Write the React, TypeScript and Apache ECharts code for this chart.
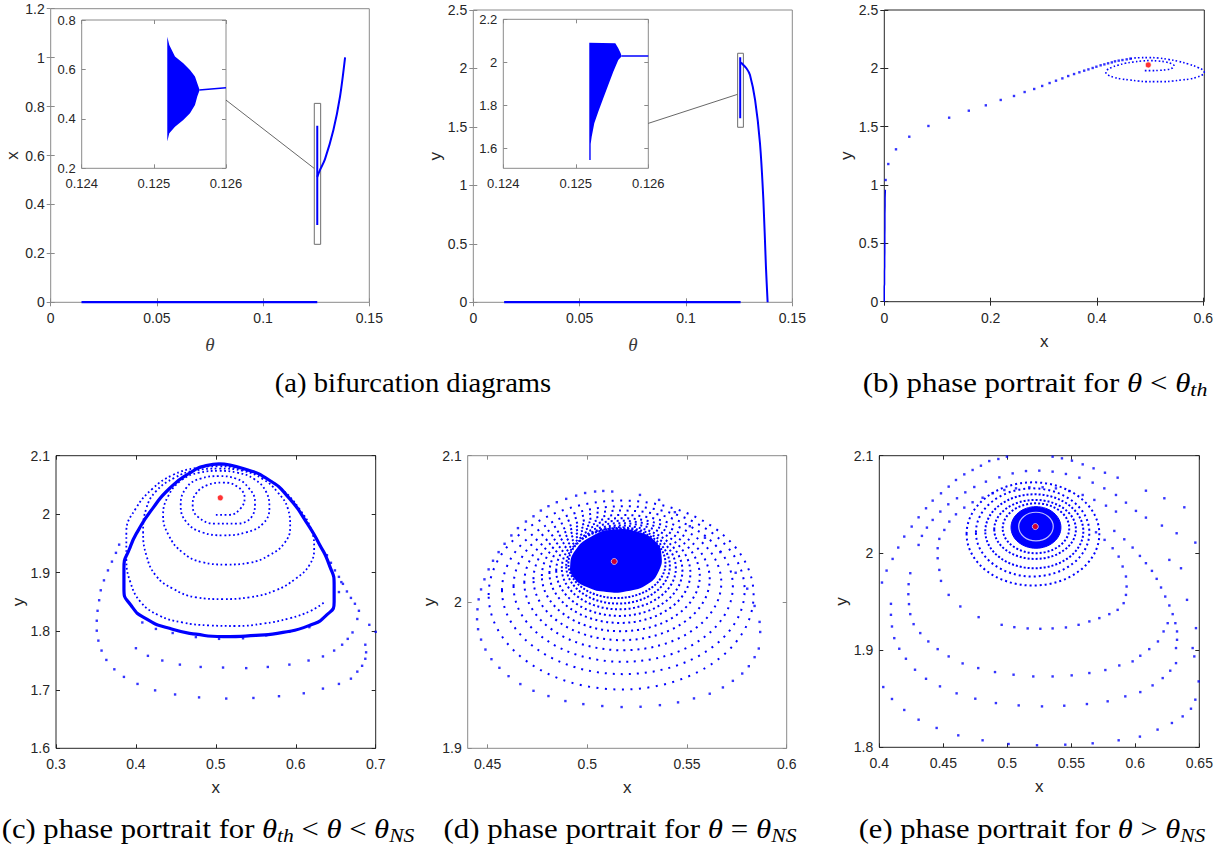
import { useEffect, useRef } from 'react';
import * as echarts from 'echarts';

const BLUE = '#0000ff';
const RED = '#ff0000';
const TXT = '#262626';

// ---------------- tick labels ----------------
const thetaTicks = [0, 0.05, 0.1, 0.15];
const a1YTicks = [0, 0.2, 0.4, 0.6, 0.8, 1, 1.2];
const insetXTicks = [0.124, 0.125, 0.126];
const a1InsetYTicks = [0.2, 0.4, 0.6, 0.8];
const a2YTicks = [0, 0.5, 1, 1.5, 2, 2.5];
const a2InsetYTicks = [1.6, 1.8, 2, 2.2];
const bXTicks = [0, 0.2, 0.4, 0.6];
const bYTicks = [0, 0.5, 1, 1.5, 2, 2.5];
const cXTicks = [0.3, 0.4, 0.5, 0.6, 0.7];
const cYTicks = [1.6, 1.7, 1.8, 1.9, 2, 2.1];
const dXTicks = [0.45, 0.5, 0.55, 0.6];
const dYTicks = [1.9, 2, 2.1];
const eXTicks = [0.4, 0.45, 0.5, 0.55, 0.6, 0.65];
const eYTicks = [1.8, 1.9, 2, 2.1];

// ---------------- (a) bifurcation: x vs theta ----------------
const a1Zero = [[0.0145, 0], [0.1255, 0]];
const a1Jump = [[0.1255, 0.316], [0.1255, 0.722]];
const a1Branch = [[0.1255, 0.513], [0.1268, 0.541], [0.1291, 0.584], [0.1331, 0.704], [0.1362, 0.84], [0.1386, 1.001]];
const a1Box = [[0.1241, 0.1271, 0.237, 0.813]];
const a1BandUpper = [[0.125186, 0.732], [0.125214, 0.699], [0.125293, 0.652], [0.125408, 0.625], [0.125501, 0.598], [0.12557, 0.571], [0.125602, 0.544], [0.12563, 0.521]];
const a1BandLower = [[0.125186, 0.308], [0.125214, 0.342], [0.125293, 0.368], [0.125408, 0.395], [0.125501, 0.423], [0.12557, 0.456], [0.125602, 0.49], [0.12563, 0.513]];
const a1Tail = [[0.12563, 0.517], [0.126, 0.526]];

// ---------------- (a) bifurcation: y vs theta ----------------
const a2Zero = [[0.0145, 0], [0.1257, 0]];
const a2Jump = [[0.1255, 1.574], [0.1255, 2.096]];
const a2Branch = [[0.1257, 2.05], [0.1262, 2.044], [0.1285, 2.0], [0.1301, 1.944], [0.1325, 1.731], [0.1348, 1.36], [0.1364, 0.875], [0.1376, 0.305], [0.1384, 0]];
const a2Box = [[0.1243, 0.127, 1.497, 2.13]];
const a2BandUpper = [[0.125186, 2.091], [0.125545, 2.089], [0.125586, 2.065], [0.125619, 2.042], [0.12563, 2.031]];
const a2BandLower = [[0.125186, 1.546], [0.125205, 1.546], [0.125205, 1.62], [0.125219, 1.654], [0.125255, 1.716], [0.12531, 1.77], [0.125379, 1.833], [0.125448, 1.894], [0.125517, 1.956], [0.125586, 2.011], [0.12563, 2.027]];
const a2Tail = [[0.12563, 2.029], [0.126, 2.029]];

// ---------------- (b) phase portrait theta < theta_th ----------------
const bAxisPts = [[0, 0], [0, 0.01], [0, 0.02], [0, 0.03], [0, 0.045], [0, 0.06], [0, 0.075], [0, 0.09], [0, 0.11], [0, 0.13], [0.0005, 0.15], [0.0005, 0.17], [0.0005, 0.2], [0.0005, 0.23], [0.0005, 0.26], [0.0008, 0.3], [0.0008, 0.34], [0.0008, 0.38], [0.001, 0.42], [0.001, 0.47], [0.001, 0.52], [0.001, 0.57], [0.0012, 0.63], [0.0012, 0.69], [0.0012, 0.75], [0.0015, 0.82], [0.0015, 0.89], [0.002, 0.96]];
const bArm = [[0.0025, 1.043], [0.0075, 1.18], [0.022, 1.306], [0.047, 1.414], [0.083, 1.506], [0.122, 1.577], [0.159, 1.637], [0.191, 1.683], [0.219, 1.729], [0.244, 1.763], [0.264, 1.797], [0.282, 1.823], [0.297, 1.849], [0.311, 1.874], [0.323, 1.894], [0.335, 1.914], [0.346, 1.934], [0.357, 1.951], [0.367, 1.966], [0.376, 1.98], [0.384, 1.991], [0.392, 2.003], [0.399, 2.014], [0.407, 2.026], [0.414, 2.034], [0.421, 2.043], [0.428, 2.051], [0.434, 2.06], [0.441, 2.066], [0.448, 2.071], [0.456, 2.077], [0.463, 2.083]];
const bLoop = [[0.463, 2.083], [0.471, 2.089], [0.48, 2.091], [0.497, 2.092], [0.515, 2.089], [0.534, 2.077], [0.553, 2.06], [0.572, 2.037], [0.591, 2.006], [0.599, 1.986], [0.602, 1.963], [0.597, 1.94], [0.587, 1.923], [0.575, 1.909], [0.559, 1.9], [0.542, 1.891], [0.525, 1.886], [0.509, 1.886], [0.493, 1.886], [0.478, 1.891], [0.462, 1.9], [0.446, 1.909], [0.432, 1.923], [0.422, 1.94], [0.417, 1.963], [0.419, 1.986], [0.428, 2.009], [0.439, 2.026], [0.453, 2.043], [0.468, 2.054], [0.484, 2.063], [0.5, 2.066], [0.515, 2.063], [0.53, 2.054], [0.54, 2.04], [0.545, 2.023], [0.542, 2.003], [0.532, 1.989], [0.518, 1.983], [0.503, 1.98], [0.487, 1.98]];
const bFixed = [[0.4966, 2.029]];

// ---------------- (c) theta_th < theta < theta_NS ----------------
const cInner = [[0.5, 1.999], [0.517, 1.999], [0.531, 2.01], [0.536, 2.028], [0.527, 2.047], [0.509, 2.054], [0.49, 2.05], [0.475, 2.035], [0.471, 2.015], [0.478, 1.995], [0.499, 1.984], [0.527, 1.984], [0.546, 1.998], [0.549, 2.021], [0.541, 2.045], [0.525, 2.061], [0.504, 2.065], [0.481, 2.061], [0.463, 2.045], [0.456, 2.015], [0.463, 1.987], [0.483, 1.969], [0.509, 1.964], [0.538, 1.969], [0.559, 1.984], [0.567, 2.01], [0.563, 2.038], [0.548, 2.06], [0.527, 2.071], [0.504, 2.074], [0.479, 2.071], [0.456, 2.057], [0.44, 2.03], [0.434, 1.998], [0.441, 1.964], [0.458, 1.935], [0.483, 1.918], [0.513, 1.914], [0.542, 1.917], [0.567, 1.93], [0.586, 1.951], [0.593, 1.978], [0.59, 2.01], [0.577, 2.038], [0.559, 2.06], [0.534, 2.074], [0.504, 2.078], [0.475, 2.075], [0.448, 2.062], [0.425, 2.039], [0.413, 2.01], [0.409, 1.97], [0.413, 1.93], [0.425, 1.895], [0.446, 1.873], [0.475, 1.858], [0.509, 1.855], [0.542, 1.858], [0.575, 1.87], [0.6, 1.89], [0.617, 1.913], [0.623, 1.941], [0.619, 1.975], [0.604, 2.01], [0.584, 2.041], [0.559, 2.064], [0.529, 2.078], [0.504, 2.082], [0.475, 2.079], [0.446, 2.067], [0.421, 2.044], [0.4, 2.01], [0.388, 1.97], [0.388, 1.924], [0.393, 1.884], [0.406, 1.85], [0.429, 1.827], [0.458, 1.815], [0.492, 1.81], [0.525, 1.809], [0.559, 1.813], [0.592, 1.822], [0.619, 1.835], [0.636, 1.85]];
const cCycle = [[0.504, 2.086], [0.534, 2.078], [0.567, 2.058], [0.592, 2.027], [0.613, 1.987], [0.629, 1.95], [0.642, 1.913], [0.648, 1.878], [0.648, 1.85], [0.638, 1.827], [0.617, 1.81], [0.584, 1.798], [0.55, 1.793], [0.509, 1.791], [0.475, 1.795], [0.442, 1.805], [0.413, 1.821], [0.394, 1.844], [0.385, 1.873], [0.385, 1.907], [0.392, 1.941], [0.404, 1.975], [0.421, 2.01], [0.442, 2.044], [0.467, 2.07], [0.488, 2.083], [0.504, 2.086]];
const cOuter = [[0.379, 1.948], [0.375, 1.934], [0.37, 1.919], [0.365, 1.904], [0.36, 1.887], [0.356, 1.87], [0.354, 1.853], [0.352, 1.835], [0.351, 1.818], [0.351, 1.801], [0.353, 1.784], [0.357, 1.767], [0.363, 1.751], [0.373, 1.735], [0.385, 1.722], [0.402, 1.71], [0.424, 1.699], [0.449, 1.692], [0.479, 1.687], [0.513, 1.685], [0.547, 1.686], [0.579, 1.689], [0.61, 1.694], [0.634, 1.702], [0.654, 1.71], [0.669, 1.719], [0.677, 1.731], [0.683, 1.741], [0.687, 1.753], [0.688, 1.764], [0.687, 1.777], [0.692, 1.811], [0.7, 1.799],
  [0.4, 1.771], [0.415, 1.758], [0.433, 1.75], [0.455, 1.743], [0.481, 1.739], [0.509, 1.738], [0.538, 1.737], [0.565, 1.739], [0.592, 1.743], [0.616, 1.75], [0.634, 1.757], [0.648, 1.767], [0.658, 1.777], [0.665, 1.787], [0.671, 1.798], [0.677, 1.821], [0.679, 1.835], [0.674, 1.847], [0.669, 1.857], [0.664, 1.868], [0.659, 1.881], [0.654, 1.893], [0.649, 1.904], [0.644, 1.917], [0.639, 1.93],
  [0.408, 1.815], [0.425, 1.804], [0.446, 1.797], [0.475, 1.79], [0.504, 1.787], [0.534, 1.788], [0.563, 1.793], [0.592, 1.799], [0.617, 1.807], [0.654, 1.867], [0.657, 1.884]];
const cFixed = [[0.5056, 2.028]];

// ---------------- (d) theta = theta_NS ----------------
const dOuter = [[0.5125, 2.0755], [0.5264, 2.0732], [0.536, 2.0698], [0.5439, 2.0614], [0.5514, 2.0518], [0.559, 2.0439], [0.5667, 2.0341], [0.5744, 2.02], [0.5802, 2.0091], [0.5839, 1.9973], [0.5864, 1.9864], [0.5867, 1.9795], [0.586, 1.9682], [0.5839, 1.9623], [0.581, 1.9561], [0.5777, 1.9511], [0.573, 1.9461], [0.568, 1.9416], [0.5614, 1.9373], [0.5535, 1.9341], [0.5455, 1.9314], [0.5364, 1.9295], [0.5267, 1.9284], [0.5172, 1.9282], [0.5075, 1.9289], [0.498, 1.9302], [0.489, 1.9323], [0.4805, 1.9357], [0.473, 1.9393], [0.4664, 1.9439], [0.4605, 1.9493], [0.4559, 1.955], [0.4519, 1.9609], [0.4489, 1.9675], [0.4467, 1.9743], [0.4452, 1.9814], [0.4447, 1.9882], [0.4449, 1.995], [0.4455, 2.0018], [0.4467, 2.0086], [0.4484, 2.0155], [0.4505, 2.0223], [0.4527, 2.0282], [0.4555, 2.0341], [0.4585, 2.0398], [0.4619, 2.0455], [0.4652, 2.0505], [0.4692, 2.055], [0.473, 2.0586], [0.4767, 2.0625], [0.4805, 2.0655], [0.4847, 2.0682], [0.4894, 2.0705], [0.4944, 2.0727], [0.4989, 2.0745], [0.5039, 2.0755], [0.508, 2.0759]];
// ring extents: [xmin, xmax, ymin, ymax]
const dRings = [[0.4505, 0.5834, 1.9402, 2.0693], [0.4572, 0.5789, 1.9507, 2.0655], [0.463, 0.573, 1.9591, 2.0625], [0.4684, 0.5672, 1.967, 2.0595], [0.473, 0.5614, 1.9739, 2.0573], [0.4772, 0.5564, 1.98, 2.0555], [0.481, 0.5517, 1.9857, 2.0539], [0.4844, 0.5477, 1.9905, 2.0523], [0.4872, 0.5444, 1.995, 2.0511], [0.4894, 0.5414, 1.9989, 2.0505], [0.4905, 0.5392, 2.0027, 2.05]];
const dCore = [[0.513, 2.0495], [0.5264, 2.0473], [0.5347, 2.0405], [0.5372, 2.0318], [0.536, 2.0216], [0.5305, 2.0125], [0.5197, 2.0073], [0.5097, 2.0068], [0.4997, 2.0102], [0.493, 2.017], [0.4914, 2.025], [0.4939, 2.0352], [0.5014, 2.0443]];
const dFixed = [[0.5135, 2.0277]];

// ---------------- (e) theta > theta_NS ----------------
const eOuter = [
  [0.4021, 1.9695], [0.4057, 1.9818], [0.4104, 1.9938], [0.4148, 2.0055], [0.4195, 2.0168], [0.4253, 2.0271], [0.4307, 2.0366], [0.4365, 2.0459], [0.4417, 2.0538], [0.4482, 2.0613], [0.4542, 2.0682], [0.4599, 2.075], [0.4664, 2.0808], [0.4729, 2.0853], [0.4794, 2.0897], [0.4859, 2.0945], [0.493, 2.0966], [0.4997, 2.099], [0.5354, 2.099], [0.5427, 2.0973], [0.5505, 2.0949], [0.5589, 2.0911], [0.5674, 2.087], [0.5763, 2.0825], [0.5862, 2.0774], [0.6083, 2.064], [0.6227, 2.0562], [0.6383, 2.0469], [0.6469, 2.0106], [0.6495, 1.8678], [0.6469, 1.849], [0.6435, 1.8397], [0.637, 1.8318], [0.6286, 1.825], [0.6174, 1.8182], [0.6036, 1.811], [0.587, 1.8072], [0.5667, 1.8041], [0.5453, 1.8027], [0.5232, 1.8021], [0.501, 1.8034], [0.4807, 1.8072], [0.4617, 1.8123], [0.4448, 1.8199], [0.4307, 1.8284], [0.4195, 1.8384], [0.4099, 1.8497], [0.4031, 1.862],
  [0.4091, 1.9476], [0.4091, 1.9363], [0.4099, 1.9243], [0.4117, 1.9123], [0.4156, 1.9014], [0.4208, 1.8911], [0.4279, 1.8798], [0.4365, 1.8705], [0.4474, 1.8627], [0.4604, 1.8555], [0.475, 1.85], [0.4911, 1.8455], [0.5089, 1.8431], [0.5271, 1.8421], [0.5445, 1.8428], [0.5622, 1.8445], [0.5784, 1.8473], [0.5922, 1.8524], [0.6039, 1.8568], [0.6135, 1.8637], [0.6214, 1.8712], [0.6273, 1.8788], [0.6318, 1.8866],
  [0.4242, 1.9791], [0.4229, 1.9678], [0.4227, 1.9575], [0.4232, 1.9473], [0.4242, 1.937], [0.4268, 1.9267], [0.432, 1.9175], [0.4383, 1.9089], [0.4456, 1.901], [0.4542, 1.8935], [0.4651, 1.8863], [0.4773, 1.8815], [0.4904, 1.8774], [0.5049, 1.8747], [0.5203, 1.8729], [0.5354, 1.8729], [0.5503, 1.874], [0.5641, 1.8764], [0.5766, 1.8795], [0.5875, 1.8842], [0.5979, 1.8884], [0.6039, 1.8942], [0.6109, 1.901], [0.6177, 1.9089], [0.6221, 1.9192], [0.6253, 1.9277],
  [0.4307, 2.0082], [0.4333, 2.0175], [0.4372, 2.026], [0.4417, 2.0339], [0.4477, 2.0425], [0.4539, 2.05], [0.4607, 2.0562], [0.4672, 2.0623], [0.4742, 2.0678], [0.4833, 2.0733], [0.4938, 2.0777], [0.5042, 2.0818], [0.5146, 2.0842], [0.525, 2.0846], [0.5354, 2.0836], [0.5458, 2.0812], [0.5563, 2.0774], [0.5667, 2.0723], [0.5758, 2.0664], [0.5849, 2.0596], [0.5927, 2.0517], [0.6005, 2.0432], [0.6083, 2.0363], [0.6208, 2.0281], [0.6323, 2.0202], [0.6266, 1.9928], [0.6357, 1.9842], [0.6404, 1.9517], [0.6474, 1.9226], [0.6448, 1.9021], [0.6461, 1.8935],
  [0.4469, 1.9825], [0.4456, 1.9945], [0.4456, 2.0048], [0.4469, 2.0144], [0.4508, 2.0236], [0.4547, 2.0322], [0.4599, 2.0397], [0.4664, 2.0466], [0.4729, 2.0521], [0.4807, 2.0568], [0.4885, 2.0613], [0.4977, 2.0647], [0.5068, 2.0664], [0.5172, 2.0675], [0.5276, 2.0675], [0.538, 2.0664], [0.5484, 2.0637], [0.5589, 2.0596], [0.568, 2.0545], [0.5771, 2.0486], [0.5849, 2.0425],
  [0.4482, 1.9712], [0.4542, 1.9568], [0.4633, 1.9449], [0.4776, 1.9339], [0.4956, 1.926], [0.5055, 1.9236], [0.5159, 1.9223], [0.5258, 1.9219], [0.5354, 1.9223], [0.5458, 1.9233], [0.5557, 1.926], [0.5641, 1.9295], [0.5719, 1.9329], [0.5797, 1.937], [0.5862, 1.9414], [0.5909, 1.9483], [0.5927, 1.9568], [0.5932, 1.9654], [0.5927, 1.9757], [0.5901, 1.986], [0.587, 1.9962], [0.5823, 2.0048], [0.576, 2.0134], [0.5693, 2.0212],
  [0.5836, 2.0226], [0.5914, 2.014], [0.5979, 2.0055], [0.6036, 1.9969], [0.6083, 1.9894], [0.613, 1.9815], [0.6167, 1.9733], [0.6201, 1.9644], [0.6234, 1.9551], [0.6266, 1.9459], [0.6292, 1.937], [0.6313, 1.9277], [0.6326, 1.9192], [0.6326, 1.9106], [0.6318, 1.9021]];
const eRings = [[0.4682, 0.5719, 1.9664, 2.0726], [0.4755, 0.5641, 1.9757, 2.0664], [0.4828, 0.5594, 1.9842, 2.0603], [0.4898, 0.5536, 1.9938, 2.0545], [0.4964, 0.5484, 1.9997, 2.051]];
const eCore = [[0.5029, 0.5419, 2.0048, 2.0476]];
const eGap = [[0.5089, 0.5359, 2.0123, 2.0418]];
const eFixed = [[0.5219, 2.0271]];

// ---------------- helpers ----------------
const fmt = (v: number) => String(+Number(v).toFixed(4));

const grids = [
  { left: 50.7, top: 8.7, width: 318.6, height: 293.6, border: '#8a8a8a' },
  { left: 81.7, top: 20, width: 144.3, height: 148.3, border: '#8a8a8a' },
  { left: 473.3, top: 10, width: 319, height: 292.3, border: '#8a8a8a' },
  { left: 503.3, top: 19.3, width: 145, height: 149, border: '#8a8a8a' },
  { left: 884.3, top: 10, width: 320, height: 291.7, border: '#262626' },
  { left: 56, top: 455.7, width: 319.7, height: 292.6, border: '#262626' },
  { left: 467.7, top: 455.7, width: 319, height: 292.6, border: '#8a8a8a' },
  { left: 879.3, top: 455.7, width: 320, height: 291.6, border: '#262626' },
];

const axCfg = [
  { xr: [0, 0.15], xt: thetaTicks, yr: [0, 1.2], yt: a1YTicks, xn: 'θ', yn: 'x', fs: 14 },
  { xr: [0.124, 0.126], xt: insetXTicks, yr: [0.2, 0.8], yt: a1InsetYTicks, xn: '', yn: '', fs: 13 },
  { xr: [0, 0.15], xt: thetaTicks, yr: [0, 2.5], yt: a2YTicks, xn: 'θ', yn: 'y', fs: 14 },
  { xr: [0.124, 0.126], xt: insetXTicks, yr: [1.507, 2.2], yt: a2InsetYTicks, xn: '', yn: '', fs: 13 },
  { xr: [0, 0.602], xt: bXTicks, yr: [0, 2.5], yt: bYTicks, xn: 'x', yn: 'y', fs: 14 },
  { xr: [0.3, 0.7], xt: cXTicks, yr: [1.6, 2.1], yt: cYTicks, xn: 'x', yn: 'y', fs: 14 },
  { xr: [0.44, 0.6], xt: dXTicks, yr: [1.9, 2.1], yt: dYTicks, xn: 'x', yn: 'y', fs: 14 },
  { xr: [0.4, 0.65], xt: eXTicks, yr: [1.8, 2.1], yt: eYTicks, xn: 'x', yn: 'y', fs: 14 },
];

function nameStyle(n: string) {
  if (n === 'θ') return { fontFamily: 'Liberation Serif', fontStyle: 'italic', fontSize: 19, color: '#3a3a3a' };
  return { fontFamily: 'Liberation Sans', fontSize: 17, color: TXT };
}

function buildAxes() {
  const xAxis: any[] = [];
  const yAxis: any[] = [];
  axCfg.forEach((c, i) => {
    const col = grids[i].border;
    const tick = { show: true, inside: true, length: 4, lineStyle: { color: col, width: 1 } };
    const lab = { fontSize: c.fs, color: TXT, fontFamily: 'Liberation Sans', formatter: fmt };
    xAxis.push({
      gridIndex: i, type: 'value', min: c.xr[0], max: c.xr[1], position: 'bottom',
      axisLine: { show: false }, splitLine: { show: false },
      axisTick: { ...tick, customValues: c.xt },
      axisLabel: { ...lab, margin: 9, customValues: c.xt },
      name: c.xn, nameLocation: 'middle', nameGap: c.xn === 'θ' ? 33 : 31, nameTextStyle: nameStyle(c.xn),
    });
    xAxis.push({
      gridIndex: i, type: 'value', min: c.xr[0], max: c.xr[1], position: 'top',
      axisLine: { show: false }, splitLine: { show: false },
      axisTick: { ...tick, customValues: c.xt }, axisLabel: { show: false, customValues: c.xt },
    });
    yAxis.push({
      gridIndex: i, type: 'value', min: c.yr[0], max: c.yr[1], position: 'left',
      axisLine: { show: false }, splitLine: { show: false },
      axisTick: { ...tick, customValues: c.yt },
      axisLabel: { ...lab, margin: 6, customValues: c.yt },
      name: c.yn, nameLocation: 'middle', nameRotate: 90, nameGap: 28, nameTextStyle: nameStyle(c.yn),
    });
    yAxis.push({
      gridIndex: i, type: 'value', min: c.yr[0], max: c.yr[1], position: 'right',
      axisLine: { show: false }, splitLine: { show: false },
      axisTick: { ...tick, customValues: c.yt }, axisLabel: { show: false, customValues: c.yt },
    });
  });
  return { xAxis, yAxis };
}

const ax = (g: number) => ({ xAxisIndex: g * 2, yAxisIndex: g * 2 });

function lineS(g: number, data: number[][], width: number, smooth: any = false, dash: any = 'solid', z = 3) {
  return { type: 'line', ...ax(g), data, showSymbol: false, smooth, z, silent: true,
    lineStyle: { color: BLUE, width, type: dash, cap: 'butt' } };
}
function scatterS(g: number, data: number[][], size = 2.4, color = BLUE, z = 4, circle = false) {
  return { type: 'scatter', ...ax(g), data, symbol: circle ? 'circle' : 'rect', symbolSize: size, z, silent: true,
    itemStyle: circle ? { color, borderColor: '#ffffff', borderWidth: 0.8 } : { color } };
}
function polyS(g: number, upper: number[][], lower: number[][], fill: string, smooth = 0) {
  const pts = upper.concat(lower.slice().reverse());
  return { type: 'custom', ...ax(g), data: [pts[0]], silent: true, z: 3,
    renderItem: (_p: any, api: any) => ({ type: 'polygon', shape: { points: pts.map((p) => api.coord(p)), smooth }, style: { fill } }) };
}
function boxS(g: number, rows: number[][], styleFn: (i: number) => any, kind: 'rect' | 'ellipse', z = 3) {
  return { type: 'custom', ...ax(g), data: rows, encode: { x: [0, 1], y: [2, 3] }, silent: true, z,
    renderItem: (p: any, api: any) => {
      const a = api.coord([api.value(0), api.value(3)]);
      const b = api.coord([api.value(1), api.value(2)]);
      const style = styleFn(p.dataIndex);
      if (kind === 'rect') return { type: 'rect', shape: { x: a[0], y: a[1], width: b[0] - a[0], height: b[1] - a[1] }, style };
      return { type: 'ellipse', shape: { cx: (a[0] + b[0]) / 2, cy: (a[1] + b[1]) / 2, rx: (b[0] - a[0]) / 2, ry: (b[1] - a[1]) / 2 }, style };
    } };
}

function buildSeries() {
  const boxStyle = () => ({ fill: 'none', stroke: '#6e6e6e', lineWidth: 1 });
  return [
    // (a) x
    lineS(0, a1Zero, 2.5), lineS(0, a1Jump, 2), lineS(0, a1Branch, 2, 0.3),
    boxS(0, a1Box, boxStyle, 'rect'),
    polyS(1, a1BandUpper, a1BandLower, BLUE), lineS(1, a1Tail, 1.6),
    // (a) y
    lineS(2, a2Zero, 2.5), lineS(2, a2Jump, 2), lineS(2, a2Branch, 2, 0.3),
    boxS(2, a2Box, boxStyle, 'rect'),
    polyS(3, a2BandUpper, a2BandLower, BLUE), lineS(3, a2Tail, 1.6),
    // (b)
    lineS(4, bAxisPts, 1.4), scatterS(4, bArm, 2.4), lineS(4, bLoop, 1.6, 0.4, [1.6, 2.2]),
    scatterS(4, bFixed, 6, RED, 6, true),
    // (c)
    lineS(5, cInner, 1.8, 0.45, [1.8, 2.6]), lineS(5, cCycle, 3.2, 0.6), scatterS(5, cOuter, 2.4),
    scatterS(5, cFixed, 6, RED, 6, true),
    // (d)
    scatterS(6, dOuter, 2.4),
    boxS(6, dRings, (i) => ({ fill: 'none', stroke: BLUE, lineWidth: 2, lineDash: [2, Math.max(1.6, 6.5 - i * 0.5)] }), 'ellipse'),
    polyS(6, dCore, [], BLUE, 0.5),
    scatterS(6, dFixed, 6, RED, 6, true),
    // (e)
    scatterS(7, eOuter, 2.4),
    boxS(7, eRings, (i) => ({ fill: 'none', stroke: BLUE, lineWidth: 2, lineDash: [2, i < 2 ? 3 : 2] }), 'ellipse'),
    boxS(7, eCore, () => ({ fill: BLUE, stroke: BLUE, lineWidth: 1 }), 'ellipse', 4),
    boxS(7, eGap, () => ({ fill: 'none', stroke: 'rgba(255,255,255,0.75)', lineWidth: 1.2 }), 'ellipse', 5),
    scatterS(7, eFixed, 6, RED, 6, true),
  ];
}

const SERIF = 'Liberation Serif';
const rich = {
  r: { fontFamily: SERIF, fontSize: 27, lineHeight: 32, fill: '#000' },
  i: { fontFamily: SERIF, fontStyle: 'italic', fontSize: 27, lineHeight: 32, fill: '#000' },
  s: { fontFamily: SERIF, fontStyle: 'italic', fontSize: 19, lineHeight: 19, verticalAlign: 'bottom', fill: '#000' },
};
const captions = [
  { x: 413, y: 383, sx: 1.06, t: '{r|(a) bifurcation diagrams}' },
  { x: 1035, y: 383, sx: 1.145, t: '{r|(b) phase portrait for }{i|θ}{r| < }{i|θ}{s|th}' },
  { x: 208, y: 829, sx: 1.135, t: '{r|(c) phase portrait for }{i|θ}{s|th}{r| < }{i|θ}{r| < }{i|θ}{s|NS}' },
  { x: 620, y: 829, sx: 1.145, t: '{r|(d) phase portrait for }{i|θ}{r| = }{i|θ}{s|NS}' },
  { x: 1032, y: 829, sx: 1.13, t: '{r|(e) phase portrait for }{i|θ}{r| > }{i|θ}{s|NS}' },
];

export default function App() {
  const ref = useRef<HTMLDivElement>(null);
  useEffect(() => {
    const chart = echarts.init(ref.current as HTMLDivElement, null, { renderer: 'svg' });
    const { xAxis, yAxis } = buildAxes();
    chart.setOption({
      animation: false,
      backgroundColor: '#ffffff',
      grid: grids.map((g, i) => ({ left: g.left, top: g.top, width: g.width, height: g.height, show: true,
        borderColor: g.border, borderWidth: 1, backgroundColor: i === 1 || i === 3 ? '#ffffff' : 'transparent', containLabel: false })),
      xAxis, yAxis,
      series: buildSeries(),
    });
    const c1 = chart.convertToPixel({ xAxisIndex: 2, yAxisIndex: 2 } as any, [0.126, 0.476]) as number[];
    const c2 = chart.convertToPixel({ xAxisIndex: 0, yAxisIndex: 0 } as any, [0.1241, 0.547]) as number[];
    const c3 = chart.convertToPixel({ xAxisIndex: 6, yAxisIndex: 6 } as any, [0.126, 1.716]) as number[];
    const c4 = chart.convertToPixel({ xAxisIndex: 4, yAxisIndex: 4 } as any, [0.1243, 1.779]) as number[];
    const graphic: any[] = captions.map((c) => ({ type: 'text', x: c.x, y: c.y, scaleX: c.sx, silent: true,
      style: { text: c.t, rich, align: 'center', verticalAlign: 'middle' } }));
    if (c1 && c2) graphic.push({ type: 'line', silent: true, shape: { x1: c1[0], y1: c1[1], x2: c2[0], y2: c2[1] }, style: { stroke: '#404040', lineWidth: 0.8 } });
    if (c3 && c4) graphic.push({ type: 'line', silent: true, shape: { x1: c3[0], y1: c3[1], x2: c4[0], y2: c4[1] }, style: { stroke: '#404040', lineWidth: 0.8 } });
    chart.setOption({ graphic });
    return () => chart.dispose();
  }, []);
  return <div ref={ref} style={{ position: 'absolute', left: 0, top: 0, width: 1216, height: 848, background: '#fff' }} />;
}
